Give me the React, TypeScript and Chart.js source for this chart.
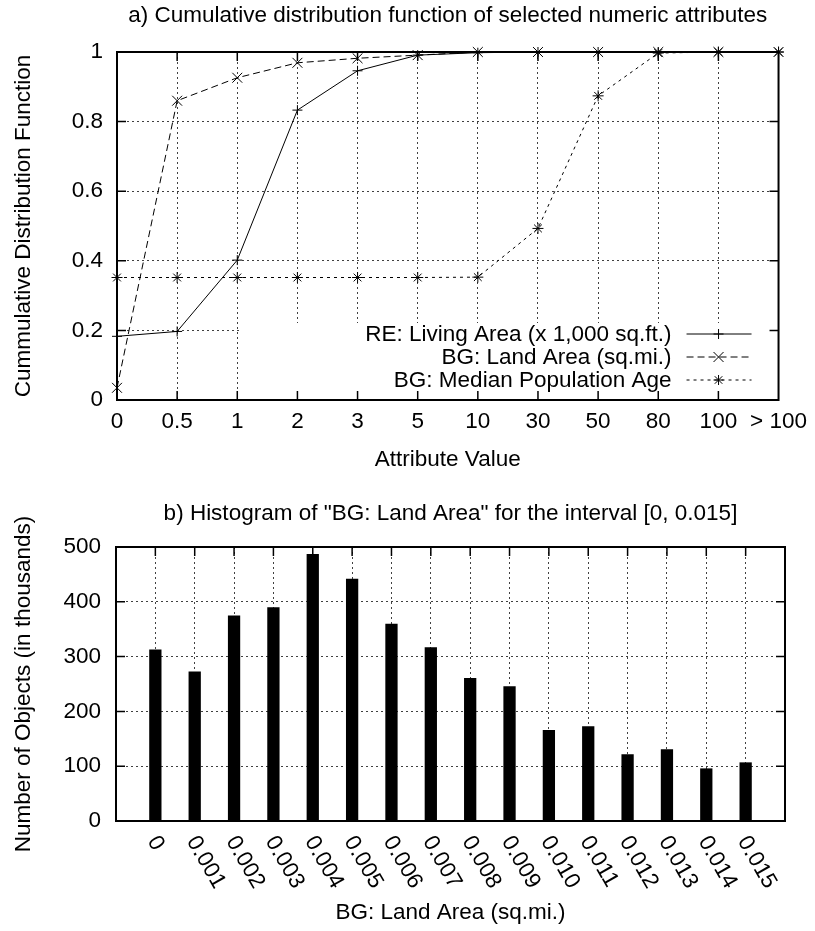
import React, { useEffect, useRef } from 'react';
import { Chart, registerables } from 'chart.js';

Chart.register(...registerables);

// ---------- Data: chart a) ----------
const cdfCategories = ['0', '0.5', '1', '2', '3', '5', '10', '30', '50', '80', '100', '> 100'];
const livingArea = [0.183, 0.197, 0.402, 0.833, 0.946, 0.991, 0.998, 1, 1, 1, 1, 1];
const landArea = [0.035, 0.86, 0.926, 0.969, 0.982, 0.991, 1, 1, 1, 1, 1, 1];
const medianAge = [0.352, 0.352, 0.352, 0.352, 0.352, 0.352, 0.353, 0.493, 0.874, 0.997, 1, 1];
const cdfYTickLabels = ['0', '0.2', '0.4', '0.6', '0.8', '1'];
const cdfSeriesNames = [
  'RE: Living Area (x 1,000 sq.ft.)',
  'BG: Land Area (sq.mi.)',
  'BG: Median Population Age',
];

// ---------- Data: chart b) ----------
const histCategories = [
  '0', '0.001', '0.002', '0.003', '0.004', '0.005', '0.006', '0.007',
  '0.008', '0.009', '0.010', '0.011', '0.012', '0.013', '0.014', '0.015',
];
const histValues = [313, 273, 375, 390, 487, 442, 360, 317, 261, 246, 166, 173, 122, 131, 96, 107];

const FONT = '"Liberation Sans", Arial, Helvetica, sans-serif';
const FS = 22.5;
const GRID_COLOR = 'rgba(0,0,0,0.75)';
const GRID_DASH = [2, 3];

function drawMarker(ctx: CanvasRenderingContext2D, style: string, x: number, y: number, r: number) {
  ctx.beginPath();
  if (style === 'cross' || style === 'star') {
    ctx.moveTo(x - r, y); ctx.lineTo(x + r, y);
    ctx.moveTo(x, y - r); ctx.lineTo(x, y + r);
  }
  if (style === 'crossRot' || style === 'star') {
    const d = style === 'star' ? r * 0.75 : r;
    ctx.moveTo(x - d, y - d); ctx.lineTo(x + d, y + d);
    ctx.moveTo(x - d, y + d); ctx.lineTo(x + d, y - d);
  }
  ctx.stroke();
}

function makeFramePlugin(legendBox: boolean) {
  return {
    id: 'frameTicks',
    beforeDatasetsDraw(chart: any) {
      const { ctx, chartArea: a, scales } = chart;
      ctx.save();
      if (legendBox) {
        ctx.fillStyle = '#fff';
        ctx.fillRect(a.left + 123, a.bottom - 77, a.right - a.left - 123, 77);
      }
      ctx.strokeStyle = '#000';
      ctx.lineWidth = 1.5;
      const tl = 9;
      ctx.beginPath();
      scales.x.ticks.forEach((_t: any, i: number) => {
        const px = scales.x.getPixelForTick(i);
        if (px <= a.left + 1 || px >= a.right - 1) return;
        ctx.moveTo(px, a.top); ctx.lineTo(px, a.top + tl);
        ctx.moveTo(px, a.bottom); ctx.lineTo(px, a.bottom - tl);
      });
      scales.y.ticks.forEach((_t: any, i: number) => {
        const py = scales.y.getPixelForTick(i);
        if (py <= a.top + 1 || py >= a.bottom - 1) return;
        ctx.moveTo(a.left, py); ctx.lineTo(a.left + tl, py);
        ctx.moveTo(a.right, py); ctx.lineTo(a.right - tl, py);
      });
      ctx.stroke();
      ctx.lineWidth = 2;
      ctx.strokeRect(a.left, a.top, a.right - a.left, a.bottom - a.top);
      ctx.restore();
    },
  };
}

const legendPlugin = {
  id: 'gpLegend',
  afterDatasetsDraw(chart: any) {
    const { ctx, chartArea: a } = chart;
    ctx.save();
    ctx.font = `${FS}px ${FONT}`;
    ctx.fillStyle = '#000';
    ctx.strokeStyle = '#000';
    ctx.lineWidth = 1;
    ctx.textAlign = 'right';
    ctx.textBaseline = 'middle';
    chart.data.datasets.forEach((ds: any, i: number) => {
      const y = a.bottom - 66 + i * 23;
      ctx.fillText(ds.label, a.right - 107, y + 1);
      ctx.setLineDash(ds.borderDash || []);
      ctx.beginPath();
      ctx.moveTo(a.right - 92, y);
      ctx.lineTo(a.right - 27, y);
      ctx.stroke();
      ctx.setLineDash([]);
      drawMarker(ctx, ds.pointStyle, a.right - 60, y, 5);
    });
    ctx.restore();
  },
};

const rotatedLabelsPlugin = {
  id: 'rotLabels',
  afterDraw(chart: any) {
    const { ctx, chartArea: a, scales } = chart;
    ctx.save();
    ctx.font = `${FS}px ${FONT}`;
    ctx.fillStyle = '#000';
    ctx.textAlign = 'left';
    ctx.textBaseline = 'middle';
    histCategories.forEach((lab, i) => {
      const x = scales.x.getPixelForValue(i + 1);
      ctx.save();
      ctx.translate(x - 3, a.bottom + 17);
      ctx.rotate((60 * Math.PI) / 180);
      ctx.fillText(lab, 0, 0);
      ctx.restore();
    });
    ctx.restore();
  },
};

function CdfChart() {
  const ref = useRef<HTMLCanvasElement>(null);
  useEffect(() => {
    const font = { family: FONT, size: FS, weight: 'normal' as const };
    const mk = (label: string, data: number[], dash: number[], style: string, r: number) => ({
      label,
      data,
      borderColor: '#000',
      backgroundColor: '#000',
      borderWidth: 1,
      borderDash: dash,
      pointStyle: style,
      pointRadius: r,
      pointBorderColor: '#000',
      pointBorderWidth: 1,
      tension: 0,
      fill: false,
      clip: false as any,
    });
    const chart = new Chart(ref.current!, {
      type: 'line',
      data: {
        labels: cdfCategories,
        datasets: [
          mk(cdfSeriesNames[0], livingArea, [], 'cross', 5),
          mk(cdfSeriesNames[1], landArea, [7, 4], 'crossRot', 7),
          mk(cdfSeriesNames[2], medianAge, [3, 4], 'star', 5.5),
        ] as any,
      },
      options: {
        responsive: false,
        animation: false,
        devicePixelRatio: 1,
        events: [],
        layout: { padding: { left: 0, right: 33, top: 0, bottom: 0 } },
        plugins: {
          legend: { display: false },
          tooltip: { enabled: false },
          title: {
            display: true,
            fullSize: false,
            text: 'a) Cumulative distribution function of selected numeric attributes',
            color: '#000',
            font,
            padding: { top: 2, bottom: 23 },
          },
        },
        scales: {
          x: {
            type: 'category',
            offset: false,
            afterFit: (s: any) => { s.height = 80; },
            grid: { display: true, color: GRID_COLOR, lineWidth: 1, drawTicks: false, offset: false },
            border: { display: false, dash: GRID_DASH },
            ticks: { color: '#000', font, padding: 8, autoSkip: false, maxRotation: 0, minRotation: 0 },
            title: { display: true, text: 'Attribute Value', color: '#000', font, padding: { top: 0, bottom: 6.5 } },
          },
          y: {
            type: 'linear',
            min: 0,
            max: 1,
            afterFit: (s: any) => { s.width = 117; },
            grid: { display: true, color: GRID_COLOR, lineWidth: 1, drawTicks: false },
            border: { display: false, dash: GRID_DASH },
            ticks: {
              stepSize: 0.2,
              color: '#000',
              font,
              padding: 14,
              callback: (_v: any, i: number) => cdfYTickLabels[i],
            },
            title: { display: true, text: 'Cummulative Distribution Function', color: '#000', font, padding: { top: 10.5, bottom: 0 } },
          },
        },
      },
      plugins: [makeFramePlugin(true), legendPlugin],
    });
    return () => chart.destroy();
  }, []);
  return <canvas ref={ref} width={815} height={480} style={{ display: 'block', width: 815, height: 480 }} />;
}

function HistChart() {
  const ref = useRef<HTMLCanvasElement>(null);
  useEffect(() => {
    const font = { family: FONT, size: FS, weight: 'normal' as const };
    const labels = ['', ...histCategories, ''];
    const data = [null, ...histValues, null];
    const chart = new Chart(ref.current!, {
      type: 'bar',
      data: {
        labels,
        datasets: [
          {
            label: 'BG: Land Area',
            data: data as any,
            backgroundColor: '#000',
            borderWidth: 0,
            barPercentage: 0.312,
            categoryPercentage: 1,
          },
        ],
      },
      options: {
        responsive: false,
        animation: false,
        devicePixelRatio: 1,
        events: [],
        layout: { padding: { left: 0, right: 30, top: 0, bottom: 0 } },
        plugins: {
          legend: { display: false },
          tooltip: { enabled: false },
          title: {
            display: true,
            fullSize: false,
            text: 'b) Histogram of "BG: Land Area" for the interval [0, 0.015]',
            color: '#000',
            font,
            padding: { top: 20.5, bottom: 19.5 },
          },
        },
        scales: {
          x: {
            type: 'category',
            offset: false,
            afterFit: (s: any) => { s.height = 110; },
            grid: { display: true, color: GRID_COLOR, lineWidth: 1, drawTicks: false, offset: false },
            border: { display: false, dash: GRID_DASH },
            ticks: { display: false, autoSkip: false },
            title: { display: true, text: 'BG: Land Area (sq.mi.)', color: '#000', font, padding: { top: 0, bottom: 4.5 } },
          },
          y: {
            type: 'linear',
            min: 0,
            max: 500,
            afterFit: (s: any) => { s.width = 116; },
            grid: { display: true, color: GRID_COLOR, lineWidth: 1, drawTicks: false },
            border: { display: false, dash: GRID_DASH },
            ticks: { stepSize: 100, color: '#000', font, padding: 15 },
            title: { display: true, text: 'Number of Objects (in thousands)', color: '#000', font, padding: { top: 10.5, bottom: 0 } },
          },
        },
      },
      plugins: [makeFramePlugin(false), rotatedLabelsPlugin],
    });
    return () => chart.destroy();
  }, []);
  return <canvas ref={ref} width={815} height={451} style={{ display: 'block', width: 815, height: 451 }} />;
}

export default function App() {
  return (
    <div style={{ position: 'absolute', left: 0, top: 0, width: 815, height: 931, background: '#fff' }}>
      <div style={{ position: 'absolute', left: 0, top: 0 }}>
        <CdfChart />
      </div>
      <div style={{ position: 'absolute', left: 0, top: 480 }}>
        <HistChart />
      </div>
    </div>
  );
}
